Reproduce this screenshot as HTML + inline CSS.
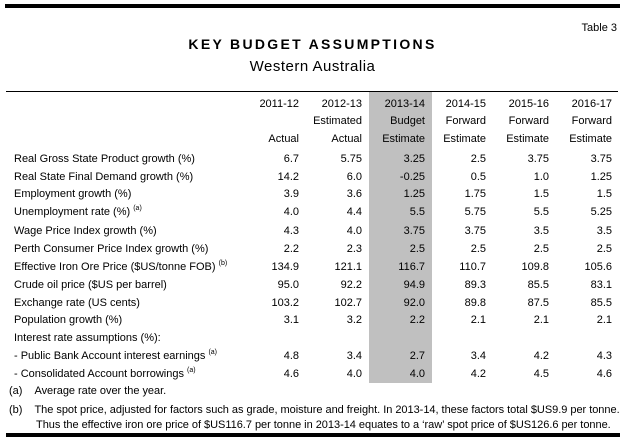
<!DOCTYPE html>
<html><head><meta charset="utf-8"><style>
body{margin:0;width:625px;height:443px;background:#fff;position:relative;overflow:hidden;font-family:"Liberation Sans",Arial,sans-serif;color:#000}
.a{position:absolute;white-space:nowrap}
.t{font-size:11px;line-height:13px}
.r{text-align:right;width:70px}
sup{font-size:7px;vertical-align:5px;line-height:0}
.f{font-size:11px;line-height:13px;letter-spacing:-0.03px}
</style></head><body>
<div class="a" style="left:5px;top:4px;width:615px;height:4px;background:#000"></div>
<div class="a" style="right:8px;top:22px;font-size:11px">Table 3</div>
<div class="a" style="left:0;width:625px;text-align:center;top:36px;font-size:14px;font-weight:bold;letter-spacing:2.3px">KEY BUDGET ASSUMPTIONS</div>
<div class="a" style="left:0;width:625px;text-align:center;top:58px;font-size:15px;letter-spacing:0.5px">Western Australia</div>
<div class="a" style="left:6px;top:91px;width:612px;height:1px;background:#000"></div>
<div class="a" style="left:369px;top:92px;width:63px;height:291px;background:#c0c0c0"></div>
<div id="tbl"></div>
<div class="a f" style="left:9px;top:385px">(a)&nbsp;&nbsp;&nbsp;&nbsp;Average rate over the year.</div>
<div class="a f" style="left:9px;top:404px">(b)&nbsp;&nbsp;&nbsp;&nbsp;The spot price, adjusted for factors such as grade, moisture and freight. In 2013-14, these factors total $US9.9 per tonne.</div>
<div class="a f" style="left:36px;top:419px">Thus the effective iron ore price of $US116.7 per tonne in 2013-14 equates to a ‘raw’ spot price of $US126.6 per tonne.</div>
<div class="a" style="left:6px;top:433px;width:614px;height:4px;background:#000"></div>
<script>
const colRight=[299,362,425,486,549,612];
const years=["2011-12","2012-13","2013-14","2014-15","2015-16","2016-17"];
const sub1=["","Estimated","Budget","Forward","Forward","Forward"];
const sub2=["Actual","Actual","Estimate","Estimate","Estimate","Estimate"];
const labels=["Real Gross State Product growth (%)","Real State Final Demand growth (%)","Employment growth (%)","Unemployment rate (%) <sup>(a)</sup>","Wage Price Index growth (%)","Perth Consumer Price Index growth (%)","Effective Iron Ore Price ($US/tonne FOB) <sup>(b)</sup>","Crude oil price ($US per barrel)","Exchange rate (US cents)","Population growth (%)","Interest rate assumptions (%):","- Public Bank Account interest earnings <sup>(a)</sup>","- Consolidated Account borrowings <sup>(a)</sup>"];
const values=[["6.7","5.75","3.25","2.5","3.75","3.75"],["14.2","6.0","-0.25","0.5","1.0","1.25"],["3.9","3.6","1.25","1.75","1.5","1.5"],["4.0","4.4","5.5","5.75","5.5","5.25"],["4.3","4.0","3.75","3.75","3.5","3.5"],["2.2","2.3","2.5","2.5","2.5","2.5"],["134.9","121.1","116.7","110.7","109.8","105.6"],["95.0","92.2","94.9","89.3","85.5","83.1"],["103.2","102.7","92.0","89.8","87.5","85.5"],["3.1","3.2","2.2","2.1","2.1","2.1"],[],["4.8","3.4","2.7","3.4","4.2","4.3"],["4.6","4.0","4.0","4.2","4.5","4.6"]];
const rowTop=[153,171,188,206,225,243,261,279,297,314,332,350,368];
const tbl=document.getElementById('tbl');
function cell(txt,left,top,right){const d=document.createElement('div');d.className='a t'+(right?' r':'');d.style.left=left+'px';d.style.top=top+'px';d.innerHTML=txt;tbl.appendChild(d);return d;}
[years,sub1,sub2].forEach((arr,k)=>{arr.forEach((t,i)=>{const d=cell(t,colRight[i]-70,[98,115,133][k],true);

});});
labels.forEach((l,r)=>{const d=cell(l,14,rowTop[r],false);


values[r].forEach((v,i)=>{const c=cell(v,colRight[i]-70,rowTop[r],true);

});});
</script>
</body></html>
